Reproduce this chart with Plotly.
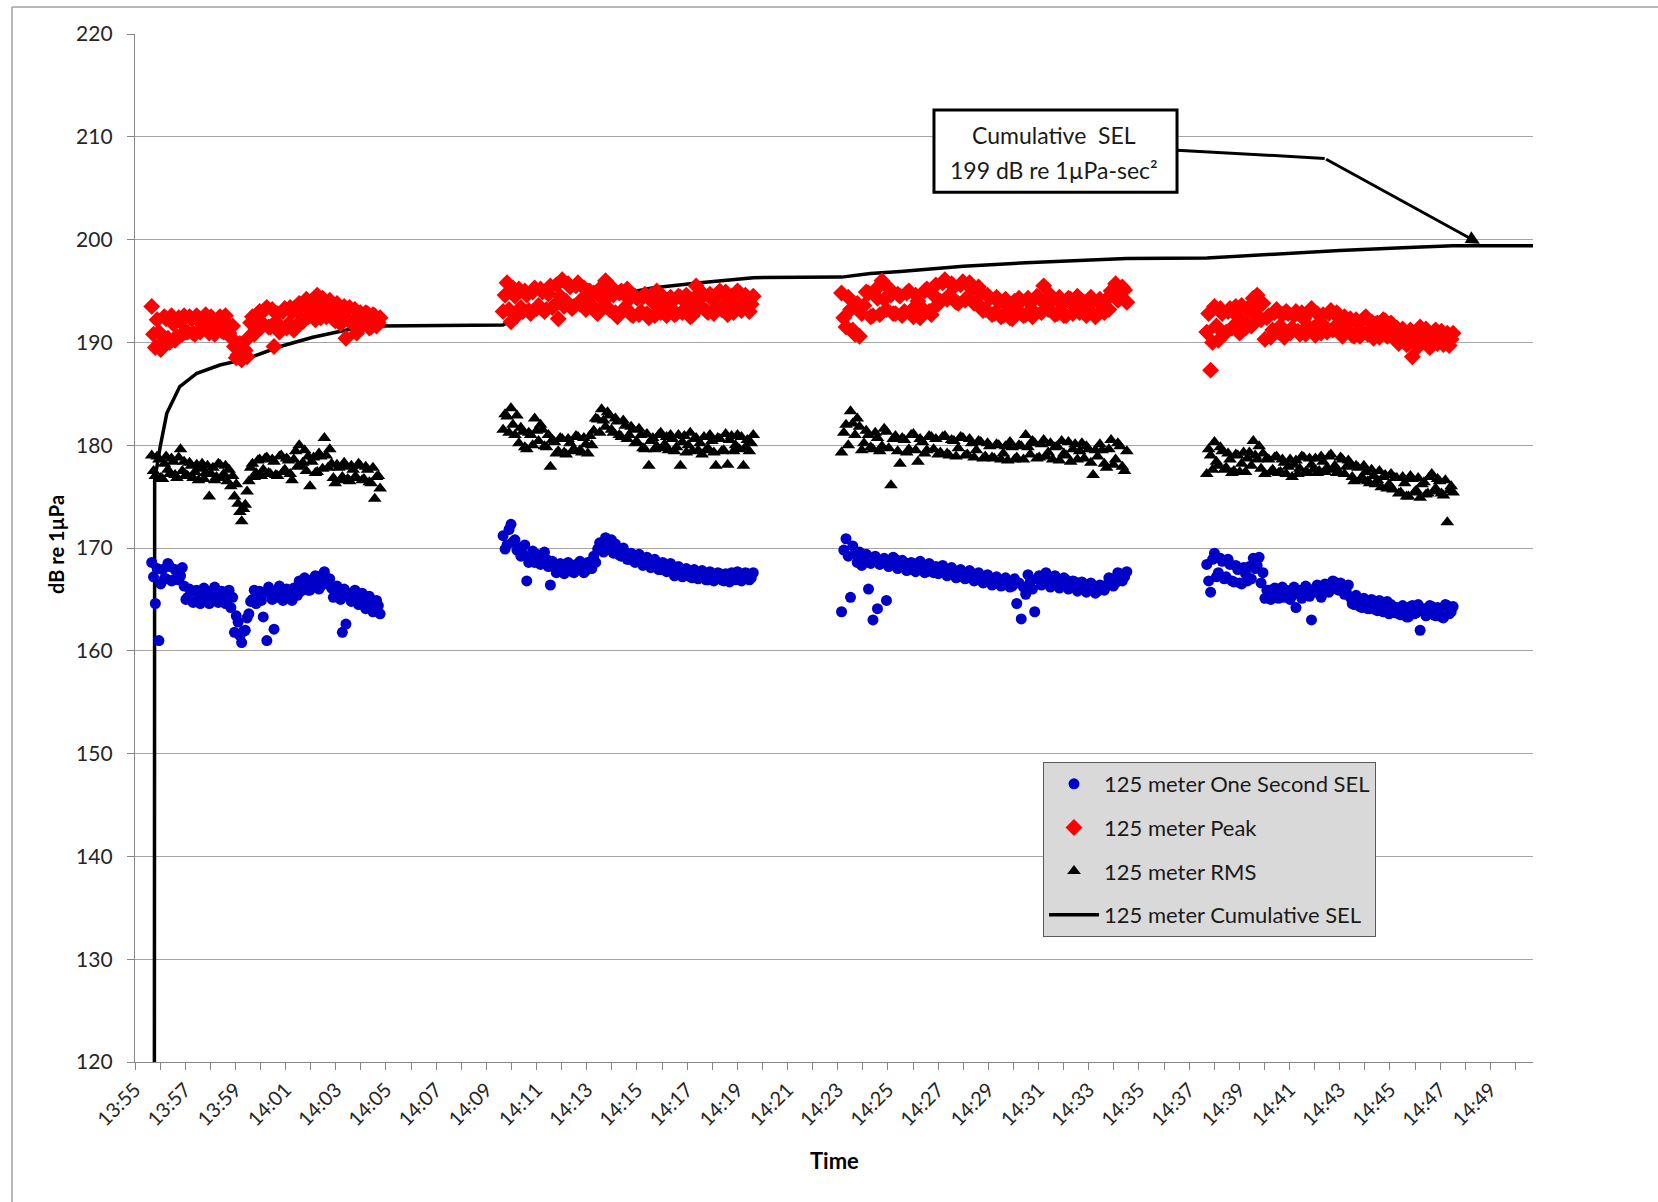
import pandas as pd
import plotly.graph_objects as go

DAY = "2013-06-01 "

# Start / end of each pile-driving burst
group_windows = [("13:55:40", "14:04:46"), ("14:09:40", "14:19:38"),
                 ("14:23:09", "14:34:31"), ("14:37:42", "14:47:31")]

# Strike levels are stored as two interleaved halves per burst (odd / even strikes).

# 125 m one-second SEL per strike (dB re 1uPa^2-s)
sel_g1_a = [168.6, 164.6, 161.0, 167.9,
            167.0, 168.2, 166.9, 167.8, 167.3,
            166.3, 165.2, 165.8, 164.8, 165.5, 165.0, 165.7, 164.6, 165.3, 165.9, 164.9, 165.4, 165.1,
            164.2, 161.8, 162.8, 160.8, 162.0,
            163.6, 165.0, 164.6, 165.8, 163.3,
            161.0, 165.9, 162.1, 165.2, 166.0, 165.1, 165.7, 164.9, 166.1,
            166.8, 166.0, 166.7, 165.9, 166.4, 167.0, 166.3, 167.7, 166.5,
            166.1, 165.4, 165.8, 161.8, 162.6, 165.6, 164.9, 165.3, 164.7,
            165.0, 164.2, 164.8, 163.9, 164.4]
sel_g1_b = [167.2, 168.0, 166.5, 167.0,
            168.5, 166.8, 167.9, 166.9, 168.1,
            165.0, 166.0, 164.7, 165.9, 164.6, 166.1, 164.9, 165.8, 166.2, 164.7, 165.8, 164.6, 165.9,
            165.2, 163.4, 161.5, 161.9, 163.2,
            164.8, 165.9, 165.3, 164.9, 165.6,
            166.2, 165.0, 165.8, 166.3, 164.9, 166.0, 165.2, 166.1, 165.4,
            165.8, 167.1, 165.9, 166.9, 167.3, 166.0, 167.4, 166.6, 167.0,
            165.2, 166.3, 165.0, 166.0, 165.3, 164.8, 165.9, 164.5, 165.6,
            164.1, 165.3, 163.8, 164.9, 163.6]
sel_g2_a = [171.2, 170.3, 172.3, 170.8,
            170.0, 169.4, 166.8, 169.0, 168.6, 169.3, 168.5, 168.9,
            166.4, 168.3, 167.7, 168.4, 167.9, 168.2, 167.6, 168.0, 168.5, 167.8, 168.6,
            169.2, 169.9, 170.4, 171.0, 170.2, 169.5, 169.9, 169.2, 169.6, 168.9,
            169.3, 168.7, 169.0, 168.4, 168.8, 168.2, 168.6, 167.9, 168.3, 167.8,
            168.0, 167.4, 167.9, 167.3, 167.8, 167.1, 167.6, 167.2,
            167.6, 166.9, 167.4, 167.0, 167.5, 166.8, 167.2, 167.6, 166.9, 167.3, 167.0, 167.5, 167.1]
sel_g2_b = [169.9, 171.8, 170.6, 169.8,
            169.2, 170.3, 168.6, 169.7, 169.4, 168.4, 169.6, 168.2,
            168.7, 167.6, 168.5, 167.5, 168.6, 167.7, 168.4, 168.7, 167.6, 168.6, 168.0,
            168.6, 170.5, 169.6, 170.3, 170.8, 170.4, 169.3, 170.0, 168.9, 169.5,
            168.6, 169.4, 168.3, 169.1, 168.1, 168.9, 167.9, 168.6, 167.7, 168.5,
            167.3, 168.2, 167.2, 168.0, 167.2, 167.9, 167.0, 167.8,
            166.9, 167.7, 166.8, 167.6, 166.9, 167.5, 166.7, 167.0, 167.7, 166.8, 167.6, 166.9, 167.6]
sel_g3_a = [163.8, 170.9, 165.2, 169.4,
            169.6, 168.9, 166.0, 163.0, 164.1, 168.7, 164.9, 168.5,
            168.9, 168.2, 168.6, 167.9, 168.5, 168.0, 168.3, 167.7, 168.1,
            168.2, 167.6, 168.0, 167.4, 167.8, 167.2, 167.6, 167.1, 167.5, 166.9,
            167.3, 166.7, 167.1, 166.5, 166.9, 166.4, 166.8, 166.3, 164.6,
            163.1, 165.5, 166.7, 163.8, 167.3, 166.9, 167.2, 166.6, 167.0, 166.5,
            166.9, 166.3, 166.7, 166.2, 166.5, 165.9, 166.3, 165.8, 166.1,
            166.4, 167.0, 166.6, 167.5, 167.2]
sel_g3_b = [169.8, 169.2, 170.2, 168.6,
            168.3, 169.4, 168.5, 169.2, 168.4, 169.0, 168.2, 169.1,
            168.0, 168.8, 167.8, 168.6, 167.7, 168.7, 167.6, 168.5, 167.6,
            167.5, 168.3, 167.3, 168.1, 167.1, 167.9, 167.0, 167.8, 166.8, 167.6,
            166.6, 167.4, 166.4, 167.2, 166.3, 167.1, 166.2, 167.0, 166.6,
            166.2, 167.4, 166.0, 167.0, 166.4, 167.6, 166.2, 167.3, 166.1, 167.1,
            166.0, 166.8, 165.8, 166.7, 165.7, 166.6, 165.6, 166.4, 165.9,
            167.1, 166.3, 167.6, 166.8, 167.7]
sel_g4_a = [168.4, 165.7, 169.5, 167.6,
            168.7, 167.2, 168.4, 166.7, 167.9, 166.5, 167.5,
            168.2, 169.0, 168.3, 166.6,
            165.1, 165.9, 165.4, 166.0, 165.6, 165.2, 165.8, 165.4, 164.2, 165.9, 165.5,
            166.1, 163.0, 165.7, 166.0, 165.6, 166.4, 166.2, 166.7, 165.9, 166.3, 165.7,
            165.2, 164.5, 165.0, 164.2, 164.8, 164.1, 164.7, 163.9, 164.5, 164.0, 163.6, 164.3,
            164.2, 163.5, 164.0, 163.3, 164.4, 163.7, 162.0, 164.1, 163.6, 164.3, 163.4,
            164.0, 163.2, 164.4, 163.8]
sel_g4_b = [166.8, 168.9, 167.2, 169.0,
            167.0, 168.9, 166.8, 168.3, 166.6, 168.1, 166.8,
            167.0, 168.0, 169.1, 167.6,
            165.9, 165.0, 166.1, 165.1, 166.2, 165.9, 165.0, 166.2, 165.6, 165.1, 166.3,
            165.3, 165.9, 166.4, 165.2, 166.5, 165.7, 166.8, 166.0, 166.6, 165.5, 166.4,
            164.6, 165.4, 164.3, 165.1, 164.1, 165.0, 164.0, 164.9, 163.8, 164.8, 164.5, 163.7,
            163.6, 164.4, 163.3, 164.3, 163.6, 164.5, 163.9, 163.4, 164.4, 163.5, 164.2,
            163.3, 164.5, 163.6, 164.3]

# 125 m peak level per strike (dB re 1uPa)
peak_g1_a = [193.5, 189.5, 191.0, 190.0,
             192.3, 190.0, 191.8, 190.6, 192.0,
             192.6, 191.0, 192.3, 190.8, 192.1, 191.3, 192.7, 190.9, 192.0, 191.5, 192.5, 191.0, 191.8,
             190.5, 189.6, 188.8, 188.3, 189.2,
             190.5, 192.5, 191.3, 193.0, 191.8,
             193.4, 191.5, 189.6, 192.8, 191.2, 193.3, 191.8, 192.9, 191.4,
             193.8, 192.0, 194.2, 192.6, 193.5, 194.6, 192.4, 193.9, 192.8,
             193.6, 192.1, 193.2, 192.5, 190.4, 193.4, 192.0, 190.9, 192.9,
             191.8, 192.8, 191.5, 192.6, 191.9]
peak_g1_b = [190.8, 192.2, 189.3, 192.5,
             190.4, 192.6, 190.2, 192.4, 190.8,
             191.0, 192.5, 190.9, 192.6, 191.0, 192.4, 191.2, 192.5, 190.8, 192.3, 191.1, 192.6, 190.9,
             191.6, 188.5, 189.9, 189.4, 188.6,
             191.9, 190.8, 192.8, 191.5, 193.2,
             191.5, 193.2, 192.0, 191.0, 193.0, 191.4, 193.4, 191.2, 193.1,
             192.1, 193.7, 192.5, 194.0, 192.2, 193.2, 194.3, 192.5, 194.1,
             192.3, 193.8, 191.8, 193.5, 192.2, 191.9, 193.2, 192.4, 191.7,
             192.9, 191.4, 192.7, 191.6, 192.4]
peak_g2_a = [193.0, 195.8, 192.0, 194.5,
             195.2, 193.0, 194.6, 192.8, 195.3, 193.6, 194.9, 193.2,
             195.5, 193.6, 192.3, 196.1, 194.0, 195.4, 193.5, 195.8, 194.2, 193.2, 195.0,
             194.8, 192.8, 194.3, 196.0, 193.2, 194.6, 192.5, 195.0, 193.4, 194.2,
             192.6, 194.3, 193.0, 194.7, 192.4, 193.9, 195.0, 192.9, 194.2, 193.1,
             194.0, 192.8, 194.4, 193.2, 193.8, 192.6, 195.5, 193.5,
             194.6, 192.9, 194.2, 193.3, 195.0, 193.6, 192.7, 194.5, 193.4, 194.8, 193.9, 194.3, 193.7]
peak_g2_b = [194.6, 193.2, 195.3, 192.6,
             193.4, 195.0, 193.1, 194.9, 193.3, 195.2, 193.0, 194.7,
             193.4, 195.6, 194.5, 193.5, 195.7, 193.3, 195.5, 193.7, 195.3, 195.0, 193.6,
             193.0, 195.2, 193.5, 194.4, 195.4, 192.9, 194.8, 193.2, 195.2, 192.7,
             194.5, 192.7, 194.4, 192.8, 194.6, 192.6, 193.3, 194.5, 192.6, 194.4,
             192.7, 194.5, 192.9, 194.6, 192.5, 194.3, 193.3, 194.8,
             193.1, 194.7, 192.8, 194.6, 193.2, 194.9, 194.2, 192.9, 195.0, 193.1, 194.6, 193.0, 194.5]
peak_g3_a = [194.8, 191.5, 193.2, 190.8,
             190.6, 193.6, 194.8, 192.6, 194.3, 196.0, 193.2, 194.6,
             192.8, 194.5, 193.0, 195.0, 192.5, 194.0, 193.3, 195.2, 192.7,
             195.6, 194.0, 196.1, 194.6, 195.4, 193.8, 195.9, 194.4, 195.2, 193.9,
             194.8, 193.2, 194.3, 192.8, 193.9, 192.6, 193.5, 192.3, 193.1,
             194.0, 192.7, 193.8, 192.9, 194.3, 195.5, 193.2, 194.1, 192.8, 193.7,
             192.6, 194.2, 193.4, 192.9, 193.9, 193.1, 194.0, 192.7, 193.6,
             194.2, 195.0, 195.7, 194.3, 195.1]
peak_g3_b = [192.4, 194.4, 191.2, 193.8,
             192.8, 194.9, 192.5, 195.1, 192.7, 194.2, 195.3, 192.8,
             194.7, 192.6, 194.8, 193.1, 194.6, 192.4, 195.0, 193.0, 194.6,
             193.7, 195.8, 194.2, 195.7, 193.9, 195.6, 194.1, 195.8, 193.8, 195.4,
             193.1, 194.6, 192.7, 194.4, 192.5, 194.2, 192.4, 194.0, 194.3,
             192.6, 194.3, 192.5, 194.5, 192.9, 193.8, 194.6, 192.7, 194.4, 192.6,
             194.3, 192.8, 194.5, 193.8, 192.6, 194.4, 192.5, 194.2, 192.9,
             193.2, 194.6, 194.1, 195.4, 193.9]
peak_g4_a = [191.0, 187.3, 193.5, 190.2,
             192.8, 191.0, 193.3, 191.6, 192.5, 193.6, 191.4,
             193.0, 194.3, 194.6, 192.2,
             190.3, 192.6, 191.2, 193.2, 191.6, 190.5, 192.8, 191.4, 193.0, 190.8, 192.3,
             191.6, 193.3, 190.7, 191.9, 192.7, 191.0, 193.1, 191.5, 192.4, 190.6, 191.8,
             192.3, 190.6, 191.8, 190.9, 192.5, 191.2, 190.4, 191.9, 191.0, 192.1, 190.7, 191.5,
             191.4, 190.2, 191.0, 189.9, 188.6, 190.8, 191.5, 190.1, 190.6, 189.7, 191.2,
             190.4, 189.8, 190.9, 190.3]
peak_g4_b = [192.8, 190.0, 191.6, 193.3,
             190.8, 193.0, 191.4, 193.5, 190.9, 192.0, 193.3,
             191.6, 192.8, 193.5, 193.8,
             192.4, 190.5, 192.9, 191.0, 192.7, 193.0, 190.9, 192.6, 191.1, 192.9, 190.8,
             193.0, 191.4, 192.8, 190.9, 191.5, 192.8, 191.2, 192.9, 190.9, 192.5, 191.1,
             190.7, 192.2, 190.6, 192.3, 190.8, 192.0, 191.8, 190.5, 192.2, 190.6, 191.9, 190.3,
             189.9, 191.3, 189.8, 191.2, 190.5, 189.6, 190.3, 191.3, 189.5, 191.0, 189.9,
             191.1, 190.6, 189.7, 190.9]

# 125 m RMS level per strike (dB re 1uPa)
rms_g1_a = [179.0, 177.0, 178.6, 176.7,
            178.9, 177.2, 178.4, 176.8, 179.6,
            178.4, 177.0, 178.0, 177.4, 176.6, 178.2, 177.3, 175.0, 177.8, 176.9, 178.1, 177.2, 176.5,
            176.0, 175.0, 174.3, 172.6, 174.2,
            176.5, 178.2, 177.3, 178.6, 177.6,
            178.8, 177.2, 178.4, 177.0, 179.0, 177.6, 178.5, 176.6, 179.4,
            180.0, 178.3, 177.5, 176.0, 178.8, 177.4, 178.9, 180.7, 177.8,
            178.2, 176.3, 177.8, 176.9, 177.9, 176.5, 177.6, 176.8, 178.0,
            176.7, 177.6, 176.3, 174.8, 177.0]
rms_g1_b = [177.5, 178.9, 176.8, 178.2,
            177.6, 178.7, 177.1, 178.8, 177.5,
            177.1, 178.3, 176.8, 178.1, 177.7, 176.7, 178.0, 177.2, 176.6, 178.2, 176.8, 178.0, 177.6,
            177.0, 176.2, 173.5, 173.8, 175.5,
            177.8, 176.9, 178.5, 177.0, 178.7,
            177.3, 178.6, 177.1, 178.9, 177.4, 178.7, 177.2, 178.6, 177.9,
            178.0, 179.5, 178.9, 178.4, 177.3, 179.2, 177.7, 179.0, 179.6,
            176.8, 178.1, 176.6, 178.3, 176.7, 178.0, 176.9, 178.2, 176.6,
            177.9, 176.4, 177.8, 176.9, 175.8]
rms_g2_a = [181.5, 182.8, 183.6, 181.0,
            180.2, 181.3, 179.6, 181.0, 182.6, 180.4, 181.5, 179.8,
            177.9, 180.3, 179.4, 180.6, 179.1, 180.2, 179.6, 180.8, 179.3, 180.1, 180.9,
            181.4, 182.5, 183.5, 181.8, 182.9, 181.2, 182.3, 180.8, 181.9, 181.0,
            181.5, 180.3, 181.0, 179.6, 178.0, 180.7, 179.9, 181.2, 180.1, 179.5,
            180.6, 179.8, 178.0, 180.9, 180.0, 179.4, 180.7, 180.2,
            180.8, 179.7, 180.4, 178.0, 180.6, 179.5, 178.1, 180.9, 180.0, 179.6, 178.0, 180.5, 180.2]
rms_g2_b = [183.0, 181.2, 182.0, 182.9,
            181.7, 179.8, 181.2, 180.0, 181.4, 182.0, 179.9, 181.0,
            180.5, 179.2, 180.7, 179.3, 180.6, 179.4, 180.9, 179.5, 180.7, 179.2, 180.0,
            182.6, 181.2, 182.4, 183.2, 181.5, 182.6, 181.0, 182.4, 180.6, 181.8,
            180.2, 181.6, 179.7, 181.1, 180.4, 179.6, 181.0, 179.7, 180.8, 181.0,
            179.4, 181.0, 180.3, 179.3, 181.2, 180.6, 179.5, 179.1,
            179.5, 181.0, 179.3, 180.7, 179.4, 181.1, 180.5, 179.4, 181.0, 180.8, 179.8, 179.4, 181.0]
rms_g3_a = [179.3, 182.0, 183.3, 181.0,
            181.8, 180.2, 181.0, 179.6, 180.7, 179.9, 181.3, 176.1,
            180.9, 178.2, 180.5, 179.6, 181.1, 178.4, 180.3, 179.5, 180.8,
            180.6, 179.3, 180.9, 179.0, 180.4, 179.7, 180.7, 179.1, 180.2, 179.5,
            180.3, 178.9, 179.9, 178.7, 180.0, 179.2, 178.5, 179.8, 178.8,
            179.9, 181.0, 179.1, 180.2, 178.8, 180.5, 179.3, 178.6, 179.9, 180.4,
            179.0, 178.4, 180.1, 179.4, 178.7, 179.6, 177.1, 178.9, 179.5,
            177.8, 180.5, 178.6, 179.9, 177.5]
rms_g3_b = [181.2, 180.0, 182.1, 182.6,
            179.5, 181.4, 179.8, 181.2, 179.4, 181.6, 179.7, 180.6,
            179.4, 180.7, 179.3, 181.0, 179.5, 180.6, 179.2, 180.9, 179.6,
            179.1, 180.8, 179.2, 180.5, 178.9, 180.8, 179.0, 180.6, 178.8, 180.4,
            178.7, 180.2, 178.8, 180.1, 178.6, 179.9, 180.3, 178.6, 180.0,
            178.6, 179.8, 180.4, 178.7, 180.1, 178.9, 180.2, 179.8, 178.5, 179.2,
            180.3, 179.6, 178.6, 180.2, 179.9, 178.3, 179.5, 180.1, 178.2,
            179.6, 178.1, 180.2, 177.9, 179.4]
rms_g4_a = [177.2, 179.0, 180.3, 178.0,
            179.4, 177.8, 178.6, 177.5, 179.0, 178.2, 177.4,
            179.3, 180.4, 178.6, 177.7,
            177.2, 178.6, 177.6, 178.9, 177.4, 178.3, 177.9, 176.9, 178.5, 177.7, 178.8,
            177.3, 178.1, 178.7, 177.5, 178.4, 177.8, 179.1, 178.0, 177.4, 178.6, 177.9,
            178.2, 176.5, 177.8, 176.9, 177.4, 176.3, 177.0, 176.6, 175.9, 177.1, 176.2, 175.7,
            176.8, 175.4, 176.3, 175.0, 176.7, 175.6, 174.9, 176.4, 175.3, 177.2, 175.8,
            176.5, 175.1, 172.5, 176.0]
rms_g4_b = [179.6, 177.6, 178.4, 179.8,
            177.6, 179.2, 177.3, 179.1, 177.4, 179.3, 178.7,
            178.0, 179.0, 179.9, 179.2,
            178.7, 177.4, 178.8, 177.3, 178.6, 177.2, 178.6, 178.1, 177.2, 178.9, 177.4,
            178.7, 177.6, 177.3, 178.9, 177.4, 178.9, 177.6, 177.3, 178.8, 177.2, 178.5,
            176.9, 178.0, 176.6, 178.0, 176.5, 177.6, 176.2, 177.5, 176.9, 175.8, 177.2, 176.8,
            175.3, 176.9, 175.0, 177.0, 175.4, 176.8, 176.2, 175.2, 176.9, 175.5, 176.7,
            175.3, 176.6, 175.6, 175.4]

# Running cumulative SEL (dB re 1uPa^2-s)
cum_times = ["13:55:45", "13:55:47", "13:56:00", "13:56:16", "13:56:47", "13:57:28",
             "13:58:23", "13:59:27", "14:00:47", "14:02:05", "14:03:26", "14:04:05",
             "14:04:46", "14:09:40", "14:10:12", "14:11:00", "14:12:00", "14:13:30",
             "14:14:42", "14:15:36", "14:17:18", "14:19:38", "14:23:09", "14:24:18",
             "14:25:30", "14:28:00", "14:30:30", "14:33:06", "14:34:30", "14:37:42",
             "14:40:42", "14:43:00", "14:45:30", "14:47:30", "14:50:42"]
cum_sel = [0.0, 176.6, 179.8, 183.1, 185.7, 187.0,
           187.8, 188.4, 189.6, 190.5, 191.2, 191.5,
           191.6, 191.7, 192.4, 193.0, 193.6, 194.3,
           194.8, 195.3, 195.75, 196.3, 196.35, 196.7,
           196.9, 197.4, 197.75, 198.0, 198.15, 198.2,
           198.65, 198.95, 199.2, 199.4, 199.4]

x_range = ["13:55:00", "14:50:42"]
y_range = [120, 220]

FONT = "Lato, 'Open Sans', sans-serif"
GRID = "#a6a6a6"
AXIS = "#868686"


def strike_series(bursts):
    """bursts: list of (half_a, half_b) per pile-driving window."""
    xs, ys = [], []
    for (start, end), (half_a, half_b) in zip(group_windows, bursts):
        assert len(half_a) == len(half_b), (start, len(half_a), len(half_b))
        vals = [v for pair in zip(half_a, half_b) for v in pair]
        xs.extend(pd.date_range(DAY + start, DAY + end, periods=len(vals)))
        ys.extend(vals)
    return xs, ys


sel_x, sel_y = strike_series([(sel_g1_a, sel_g1_b), (sel_g2_a, sel_g2_b),
                              (sel_g3_a, sel_g3_b), (sel_g4_a, sel_g4_b)])
peak_x, peak_y = strike_series([(peak_g1_a, peak_g1_b), (peak_g2_a, peak_g2_b),
                                (peak_g3_a, peak_g3_b), (peak_g4_a, peak_g4_b)])
rms_x, rms_y = strike_series([(rms_g1_a, rms_g1_b), (rms_g2_a, rms_g2_b),
                              (rms_g3_a, rms_g3_b), (rms_g4_a, rms_g4_b)])

fig = go.Figure()
# Cumulative line goes underneath the strike markers
fig.add_trace(go.Scatter(x=[DAY + t for t in cum_times], y=cum_sel, mode="lines",
                         name="125 meter Cumulative SEL", legendgroup="cum", legendrank=4,
                         line=dict(color="#000000", width=3.5)))
fig.add_trace(go.Scatter(x=sel_x, y=sel_y, mode="markers", name="125 meter One Second SEL",
                         legendgroup="sel", legendrank=1,
                         marker=dict(symbol="circle", size=11, color="#0000c8")))
fig.add_trace(go.Scatter(x=peak_x, y=peak_y, mode="markers", name="125 meter Peak",
                         legendgroup="peak", legendrank=2,
                         marker=dict(symbol="diamond", size=13, color="#ff0000")))
fig.add_trace(go.Scatter(x=rms_x, y=rms_y, mode="markers", name="125 meter RMS",
                         legendgroup="rms", legendrank=3,
                         marker=dict(symbol="triangle-up", size=12, color="#000000")))

# Callout box with bent leader to the final cumulative value
box_x0, box_x1 = DAY + "14:26:50", DAY + "14:36:31"
fig.add_shape(type="rect", xref="x", yref="y", x0=box_x0, x1=box_x1, y0=204.6, y1=212.6,
              line=dict(color="#000000", width=3), fillcolor="#ffffff", layer="above")
fig.add_shape(type="line", xref="x", yref="y", x0=box_x1, y0=208.7,
              x1=DAY + "14:42:24", y1=207.9, line=dict(color="#000000", width=3))
fig.add_annotation(x=DAY + "14:48:35", y=199.6, ax=DAY + "14:42:24", ay=207.9,
                   axref="x", ayref="y", xref="x", yref="y", text="",
                   showarrow=True, arrowhead=2, arrowsize=0.9, arrowwidth=3, arrowcolor="#000000")
fig.add_annotation(x=DAY + "14:31:37", y=210.2, xref="x", yref="y", showarrow=False,
                   text="Cumulative  SEL", font=dict(family=FONT, size=23, color="#1a1a1a"))
fig.add_annotation(x=DAY + "14:31:37", y=206.8, xref="x", yref="y", showarrow=False,
                   text="199 dB re 1µPa-sec²", font=dict(family=FONT, size=23, color="#1a1a1a"))

# Axis titles
fig.add_annotation(x=0.5, y=-0.0963, xref="paper", yref="paper", showarrow=False,
                   xanchor="center", yanchor="middle",
                   text="<b>Time</b>", font=dict(family=FONT, size=22, color="#000000"))
fig.add_annotation(x=-0.0565, y=0.503, xref="paper", yref="paper", showarrow=False,
                   xanchor="center", yanchor="middle",
                   textangle=-90, text="<b>dB re 1µPa</b>",
                   font=dict(family=FONT, size=20, color="#000000"))

# Chart-area frame (top and left edges)
fig.add_shape(type="line", xref="paper", yref="paper", x0=-0.088, x1=1.09, y0=1.0263, y1=1.0263,
              line=dict(color="#a0a0a0", width=1.5))
fig.add_shape(type="line", xref="paper", yref="paper", x0=-0.088, x1=-0.088, y0=1.0263, y1=-0.14,
              line=dict(color="#a0a0a0", width=1.5))

fig.update_layout(
    width=1658, height=1202, autosize=False,
    margin=dict(l=135, r=125, t=34, b=140),
    paper_bgcolor="#ffffff", plot_bgcolor="#ffffff",
    font=dict(family=FONT, color="#262626"),
    showlegend=True,
    legend=dict(x=0.6495, y=0.2918, xanchor="left", yanchor="top",
                bgcolor="#d9d9d9", bordercolor="#595959", borderwidth=1,
                font=dict(family=FONT, size=22, color="#1a1a1a"),
                traceorder="grouped", tracegroupgap=12, itemwidth=50),
)

fig.update_xaxes(
    type="date", range=[DAY + x_range[0], DAY + x_range[1]],
    tick0=DAY + "13:55", dtick=120000, tickformat="%H:%M", tickangle=-45,
    ticks="outside", ticklen=7, tickcolor=AXIS, tickwidth=1.3,
    showline=True, linecolor=AXIS, linewidth=1.3, showgrid=False, zeroline=False,
    tickfont=dict(family=FONT, size=20, color="#262626"),
    minor=dict(dtick=60000, ticks="outside", ticklen=7, tickcolor=AXIS, tickwidth=1.3, showgrid=False),
)
fig.update_yaxes(
    range=y_range, dtick=10, tick0=120,
    ticks="outside", ticklen=7, tickcolor=AXIS, tickwidth=1.3,
    showline=True, linecolor=AXIS, linewidth=1.3,
    showgrid=True, gridcolor=GRID, gridwidth=1.3, zeroline=False,
    ticklabelstandoff=10,
    tickfont=dict(family=FONT, size=21, color="#262626"),
)

fig.write_html("out.html")
